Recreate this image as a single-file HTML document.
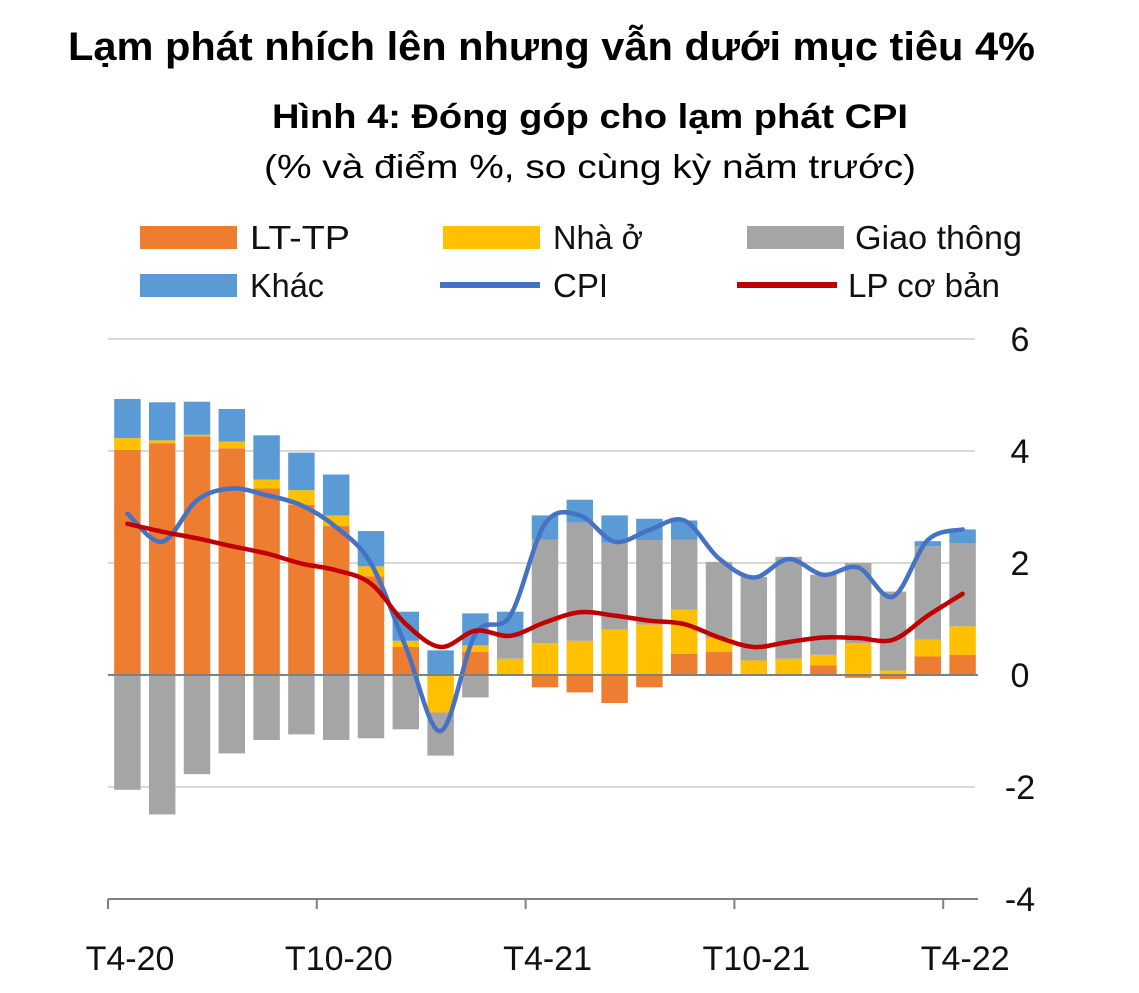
<!DOCTYPE html>
<html><head><meta charset="utf-8"><style>
html,body{margin:0;padding:0;background:#fff;}
svg{display:block;font-family:"Liberation Sans",sans-serif;}
</style></head><body>
<svg id="chart" width="1139" height="993" viewBox="0 0 1139 993" xmlns="http://www.w3.org/2000/svg">
<text x="68" y="60" font-size="40" font-weight="bold" textLength="967" lengthAdjust="spacingAndGlyphs">Lạm phát nhích lên nhưng vẫn dưới mục tiêu 4%</text>
<text x="272" y="128" font-size="34" font-weight="bold" textLength="636" lengthAdjust="spacingAndGlyphs">Hình 4: Đóng góp cho lạm phát CPI</text>
<text x="264" y="178" font-size="33" textLength="652" lengthAdjust="spacingAndGlyphs">(% và điểm %, so cùng kỳ năm trước)</text>
<g font-size="33" fill="#111">
 <g><rect x="140" y="226" width="97" height="23" fill="#ED7D31"/><text x="250" y="249" textLength="100" lengthAdjust="spacingAndGlyphs">LT-TP</text></g>
 <g><rect x="443" y="226" width="97" height="23" fill="#FFC000"/><text x="553" y="249" textLength="90" lengthAdjust="spacingAndGlyphs">Nhà ở</text></g>
 <g><rect x="747" y="226" width="97" height="23" fill="#A5A5A5"/><text x="855" y="249" textLength="167" lengthAdjust="spacingAndGlyphs">Giao thông</text></g>
 <g><rect x="140" y="274" width="97" height="23" fill="#5B9BD5"/><text x="250" y="297" textLength="74" lengthAdjust="spacingAndGlyphs">Khác</text></g>
 <g><rect x="440" y="282" width="100" height="6" fill="#4472C4"/><text x="553" y="297">CPI</text></g>
 <g><rect x="737" y="282" width="100" height="6" fill="#C00000"/><text x="848" y="297" textLength="152" lengthAdjust="spacingAndGlyphs">LP cơ bản</text></g>
</g>
<g id="grid"></g>
<g id="bars"></g>
<g id="lines"></g>
<g id="axes"></g>
</svg>
<script>
const months = ["T4-20","T5-20","T6-20","T7-20","T8-20","T9-20","T10-20","T11-20","T12-20","T1-21","T2-21","T3-21","T4-21","T5-21","T6-21","T7-21","T8-21","T9-21","T10-21","T11-21","T12-21","T1-22","T2-22","T3-22","T4-22"];
const food = [4.02,4.14,4.26,4.05,3.33,3.04,2.66,1.76,0.50,0,0.41,0,-0.22,-0.31,-0.50,-0.22,0.38,0.41,0,0,0.17,-0.05,-0.07,0.33,0.36];
const housing = [0.21,0.05,0.03,0.12,0.16,0.26,0.19,0.18,0.11,-0.67,0.12,0.29,0.57,0.61,0.81,0.90,0.79,0.26,0.26,0.29,0.19,0.57,0.08,0.30,0.51];
const transport = [-2.05,-2.49,-1.77,-1.40,-1.16,-1.06,-1.16,-1.13,-0.97,-0.77,-0.40,0.38,1.85,2.11,1.55,1.51,1.25,1.35,1.49,1.82,1.43,1.43,1.41,1.67,1.48];
const other = [0.70,0.68,0.59,0.58,0.79,0.67,0.73,0.63,0.52,0.44,0.57,0.46,0.43,0.41,0.49,0.38,0.34,0,0,0,0,0,0,0.09,0.25];
const cpi = [2.88,2.38,3.12,3.33,3.21,3.03,2.64,1.99,0.50,-1.00,0.73,1.06,2.70,2.85,2.38,2.59,2.76,2.08,1.74,2.07,1.79,1.92,1.40,2.41,2.60];
const core = [2.70,2.56,2.44,2.30,2.17,1.99,1.87,1.63,0.91,0.50,0.79,0.70,0.94,1.12,1.06,0.97,0.91,0.67,0.50,0.59,0.67,0.66,0.63,1.06,1.45];
const yTicks = [6,4,2,0,-2,-4];
const xTickLabels = ["T4-20","T10-20","T4-21","T10-21","T4-22"];

const NS="http://www.w3.org/2000/svg";
const X0=108, X1=978, Y0=675, PU=56;
const bw=(X1-X0)/months.length;
const xc=i=>X0+bw*(i+0.5)+2;
const y=v=>Y0-v*PU;
function mk(tag,attrs,parent){const e=document.createElementNS(NS,tag);for(const k in attrs)e.setAttribute(k,attrs[k]);parent.appendChild(e);return e;}
const grid=document.getElementById('grid'),bars=document.getElementById('bars'),lines=document.getElementById('lines'),axes=document.getElementById('axes');
yTicks.forEach(t=>{
 if(t!==0&&t!==-4){const l=mk('line',{x1:X0,x2:975,y1:y(t),y2:y(t),stroke:'#D9D9D9','stroke-width':2},grid);
 
 }
 const tx=mk('text',{x:1020,y:y(t)+12,'font-size':34,'text-anchor':'middle',fill:'#111'},axes);
 tx.textContent=t;
 
 
});
const series=[[food,'#ED7D31','lt-tp'],[housing,'#FFC000','nha-o'],[transport,'#A5A5A5','giao-thong'],[other,'#5B9BD5','khac']];
months.forEach((m,i)=>{
 let pos=0,neg=0;
 series.forEach(([arr,col,nm])=>{
  const v=arr[i]; if(!v)return;
  let a,b; if(v>0){a=pos;b=pos+v;pos=b;}else{a=neg;b=neg+v;neg=b;}
  const r=mk('rect',{x:xc(i)-bw*0.38,width:bw*0.76,y:Math.min(y(a),y(b)),height:Math.abs(y(a)-y(b)),fill:col},bars);
  
  
 });
});
const zl=mk('line',{x1:X0,x2:X1,y1:Y0,y2:Y0,stroke:'#808080','stroke-width':2},axes);


function smooth(arr){
 const p=arr.map((v,i)=>[xc(i),y(v)]);
 let d='M'+p[0][0]+','+p[0][1];
 for(let i=0;i<p.length-1;i++){
  const p0=p[i-1]||p[i],p1=p[i],p2=p[i+1],p3=p[i+2]||p2;
  const c1=[p1[0]+(p2[0]-p0[0])/6,p1[1]+(p2[1]-p0[1])/6],c2=[p2[0]-(p3[0]-p1[0])/6,p2[1]-(p3[1]-p1[1])/6];
  d+=` C${c1[0]},${c1[1]} ${c2[0]},${c2[1]} ${p2[0]},${p2[1]}`;
 }
 return d;
}
const lc=mk('path',{d:smooth(cpi),fill:'none',stroke:'#4472C4','stroke-width':4.5,'stroke-linecap':'round'},lines);


const lr=mk('path',{d:smooth(core),fill:'none',stroke:'#C00000','stroke-width':4.5,'stroke-linecap':'round'},lines);


const ax=mk('line',{x1:X0,x2:X1,y1:y(-4),y2:y(-4),stroke:'#808080','stroke-width':2},axes);


xTickLabels.forEach((lab,k)=>{
 const xi=X0+bw*6*k;
 const tk=mk('line',{x1:xi,x2:xi,y1:y(-4),y2:y(-4)+10,stroke:'#808080','stroke-width':2},axes);
 
 
 const tx=mk('text',{x:xi+22,y:970,'font-size':34,'text-anchor':'middle',fill:'#111'},axes);
 tx.textContent=lab;
 
 
});
</script>
</body></html>
